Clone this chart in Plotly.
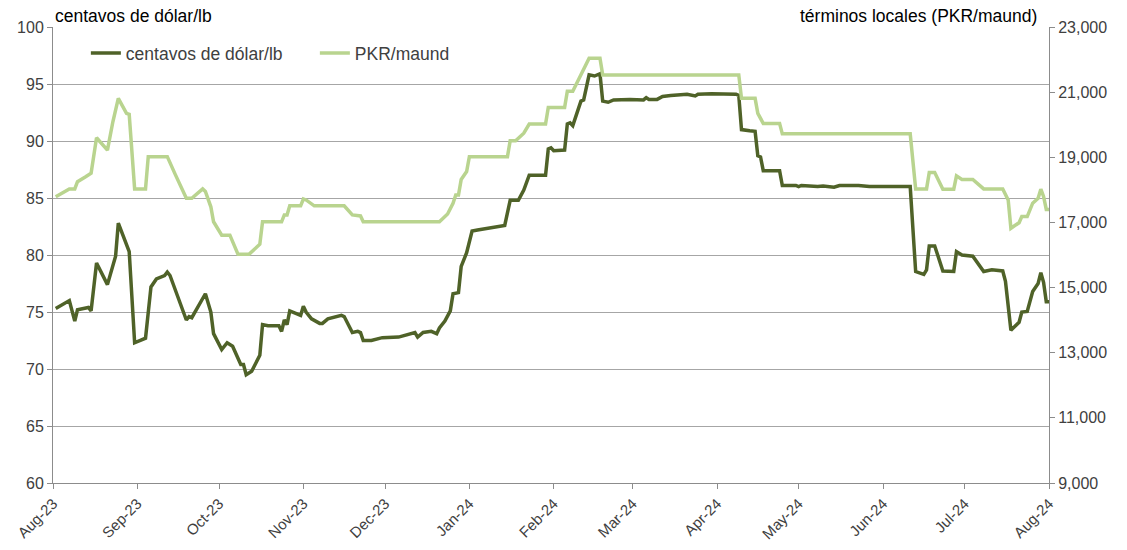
import plotly.graph_objects as go

# centavos de dólar/lb (left axis)
usc_dates = [
    "2023-08-02","2023-08-07","2023-08-09","2023-08-10","2023-08-14","2023-08-15","2023-08-17","2023-08-21",
    "2023-08-24","2023-08-25","2023-08-29","2023-08-31","2023-09-04","2023-09-06","2023-09-08","2023-09-11",
    "2023-09-12","2023-09-13","2023-09-19","2023-09-20","2023-09-21","2023-09-26","2023-09-28","2023-09-29",
    "2023-10-02","2023-10-04","2023-10-06","2023-10-09","2023-10-10","2023-10-11","2023-10-13","2023-10-16",
    "2023-10-17","2023-10-19","2023-10-23","2023-10-24","2023-10-25","2023-10-26","2023-10-27","2023-10-31",
    "2023-11-01","2023-11-02","2023-11-04","2023-11-07","2023-11-08","2023-11-10","2023-11-15","2023-11-16",
    "2023-11-19","2023-11-21","2023-11-22","2023-11-23","2023-11-26","2023-11-28","2023-11-30","2023-12-06",
    "2023-12-09","2023-12-12","2023-12-13","2023-12-15","2023-12-18","2023-12-20","2023-12-21","2023-12-23",
    "2023-12-25","2023-12-26","2023-12-28","2023-12-29","2023-12-31","2024-01-02","2024-01-04","2024-01-09",
    "2024-01-11","2024-01-14","2024-01-16","2024-01-19","2024-01-21","2024-01-23","2024-01-29","2024-01-30",
    "2024-01-31","2024-02-01","2024-02-05","2024-02-06","2024-02-07","2024-02-08","2024-02-11","2024-02-12",
    "2024-02-14","2024-02-16","2024-02-18","2024-02-19","2024-02-21","2024-02-23","2024-02-29","2024-03-05",
    "2024-03-06","2024-03-07","2024-03-10","2024-03-12","2024-03-15","2024-03-18","2024-03-21","2024-03-24",
    "2024-03-25","2024-03-30","2024-04-04","2024-04-08","2024-04-09","2024-04-10","2024-04-13","2024-04-15",
    "2024-04-16","2024-04-17","2024-04-18","2024-04-24","2024-04-25","2024-04-28","2024-04-30","2024-05-01",
    "2024-05-02","2024-05-08","2024-05-10","2024-05-14","2024-05-16","2024-05-23","2024-05-27","2024-06-04",
    "2024-06-11","2024-06-13","2024-06-16","2024-06-17","2024-06-18","2024-06-20","2024-06-23","2024-06-27",
    "2024-06-28","2024-06-30","2024-07-04","2024-07-08","2024-07-11","2024-07-15","2024-07-16","2024-07-18",
    "2024-07-21","2024-07-22","2024-07-24","2024-07-26","2024-07-28","2024-07-29","2024-07-30","2024-07-31",
    "2024-08-01",
]
usc_values = [
    75.3, 76.0, 74.2, 75.2, 75.4, 75.1, 79.3, 77.4,
    79.9, 82.8, 80.3, 72.3, 72.7, 77.2, 77.9, 78.2,
    78.5, 78.2, 74.3, 74.6, 74.5, 76.6, 75.0, 73.1,
    71.7, 72.3, 72.0, 70.4, 70.4, 69.5, 69.8, 71.2,
    73.9, 73.8, 73.8, 73.3, 74.3, 73.9, 75.1, 74.7,
    75.5, 75.0, 74.4, 74.0, 74.0, 74.4, 74.7, 74.6,
    73.2, 73.3, 73.2, 72.5, 72.5, 72.6, 72.75, 72.8,
    73.0, 73.2, 72.8, 73.2, 73.3, 73.1, 73.6, 74.2,
    75.1, 76.6, 76.7, 79.0, 80.2, 82.1, 82.2, 82.4,
    82.45, 82.6, 84.8, 84.8, 85.7, 87.0, 87.0, 89.3,
    89.4, 89.15, 89.2, 91.5, 91.6, 91.35, 93.5, 93.6,
    95.8, 95.7, 95.9, 93.5, 93.4, 93.6, 93.65, 93.6,
    93.8, 93.65, 93.65, 93.9, 94.0, 94.05, 94.1, 93.95,
    94.1, 94.15, 94.1, 94.1, 94.0, 91.0, 90.9, 90.85,
    88.7, 88.6, 87.4, 87.4, 86.1, 86.1, 86.1, 86.0,
    86.1, 86.0, 86.05, 85.95, 86.1, 86.1, 86.0, 86.0,
    86.0, 78.55, 78.3, 78.7, 80.8, 80.8, 78.6, 78.55,
    80.3, 80.0, 79.9, 78.55, 78.7, 78.6, 77.7, 73.4,
    74.1, 75.0, 75.05, 76.8, 77.5, 78.45, 77.6, 75.9,
    75.9,
]

# términos locales PKR/maund (right axis)
pkr_dates = [
    "2023-08-02","2023-08-05","2023-08-07","2023-08-09","2023-08-10","2023-08-13","2023-08-15","2023-08-17",
    "2023-08-21","2023-08-23","2023-08-25","2023-08-28","2023-08-29","2023-08-31","2023-09-04","2023-09-05",
    "2023-09-12","2023-09-15","2023-09-19","2023-09-21","2023-09-25","2023-09-26","2023-09-28","2023-09-29",
    "2023-10-02","2023-10-05","2023-10-08","2023-10-12","2023-10-16","2023-10-17","2023-10-24","2023-10-25",
    "2023-10-26","2023-10-27","2023-10-31","2023-11-01","2023-11-02","2023-11-05","2023-11-16","2023-11-19",
    "2023-11-22","2023-11-23","2023-12-21","2023-12-24","2023-12-26","2023-12-27","2023-12-28","2023-12-29",
    "2023-12-31","2024-01-01","2024-01-15","2024-01-16","2024-01-18","2024-01-21","2024-01-23","2024-01-29",
    "2024-01-30","2024-02-05","2024-02-06","2024-02-08","2024-02-11","2024-02-14","2024-02-18","2024-02-19",
    "2024-04-09","2024-04-10","2024-04-15","2024-04-16","2024-04-18","2024-04-24","2024-04-25","2024-06-11",
    "2024-06-13","2024-06-17","2024-06-18","2024-06-20","2024-06-23","2024-06-27","2024-06-28","2024-06-30",
    "2024-07-04","2024-07-08","2024-07-15","2024-07-17","2024-07-18","2024-07-21","2024-07-22","2024-07-24",
    "2024-07-26","2024-07-28","2024-07-29","2024-07-30","2024-07-31","2024-08-01",
]
pkr_values = [
    17790, 17940, 18030, 18030, 18250, 18400, 18510, 19600,
    19220, 20090, 20810, 20350, 20320, 18030, 18030, 19020,
    19020, 18460, 17740, 17740, 18030, 17950, 17480, 17020,
    16610, 16610, 16020, 16020, 16330, 17020, 17020, 17230,
    17230, 17510, 17510, 17720, 17690, 17510, 17510, 17230,
    17200, 17020, 17020, 17260, 17590, 17840, 17840, 18320,
    18560, 19020, 19020, 19510, 19510, 19740, 20020, 20020,
    20530, 20530, 21030, 21030, 21530, 22040, 22040, 21530,
    21530, 20810, 20810, 20350, 20040, 20040, 19720, 19720,
    18030, 18030, 18530, 18530, 18020, 18020, 18430, 18320,
    18320, 18030, 18030, 17690, 16820, 16990, 17180, 17180,
    17590, 17740, 18020, 17800, 17400, 17400,
]

month_ticks = ["2023-08-01","2023-09-01","2023-10-01","2023-11-01","2023-12-01","2024-01-01","2024-02-01",
               "2024-03-01","2024-04-01","2024-05-01","2024-06-01","2024-07-01","2024-08-01"]
month_labels = ["Aug-23","Sep-23","Oct-23","Nov-23","Dec-23","Jan-24","Feb-24",
                "Mar-24","Apr-24","May-24","Jun-24","Jul-24","Aug-24"]
left_ticks = [60, 65, 70, 75, 80, 85, 90, 95, 100]
right_ticks = [9000, 11000, 13000, 15000, 17000, 19000, 21000, 23000]

DARK = "#4F6228"
LIGHT = "#B9D48F"
FONT = "Liberation Sans, Arial, sans-serif"
TICKC = "#404040"

fig = go.Figure()
fig.add_trace(go.Scatter(x=usc_dates, y=usc_values, mode="lines", name="centavos de dólar/lb",
                         line=dict(color=DARK, width=3.5), yaxis="y"))
fig.add_trace(go.Scatter(x=pkr_dates, y=pkr_values, mode="lines", name="PKR/maund",
                         line=dict(color=LIGHT, width=3.5), yaxis="y2"))

fig.update_layout(
    width=1127, height=550,
    margin=dict(l=53, r=78, t=27, b=67, autoexpand=False),
    paper_bgcolor="white", plot_bgcolor="white",
    font=dict(family=FONT, size=15, color=TICKC),
    showlegend=True,
    legend=dict(orientation="h", x=0.033, y=0.982, xanchor="left", yanchor="top",
                bgcolor="rgba(0,0,0,0)", font=dict(size=17.5, color=TICKC),
                itemwidth=30, entrywidth=184, tracegroupgap=0),
    xaxis=dict(type="date", range=["2023-08-01", "2024-08-01"],
               tickvals=month_ticks, ticktext=month_labels, tickangle=-45,
               showgrid=False, showline=True, linecolor="#8C8C8C", linewidth=1,
               ticks="outside", ticklen=5, tickcolor="#8C8C8C",
               tickfont=dict(size=15, color=TICKC), zeroline=False, automargin=False),
    yaxis=dict(range=[60, 100], tickvals=left_ticks, showgrid=True, gridcolor="#A6A6A6", gridwidth=1,
               showline=True, linecolor="#8C8C8C", linewidth=1, ticks="outside", ticklen=5,
               tickcolor="#8C8C8C", tickfont=dict(size=16, color=TICKC), zeroline=False, automargin=False),
    yaxis2=dict(range=[9000, 23000], tickvals=right_ticks, tickformat=",", overlaying="y", side="right",
                showgrid=False, showline=True, linecolor="#8C8C8C", linewidth=1, ticks="outside",
                ticklen=5, tickcolor="#8C8C8C", tickfont=dict(size=16, color=TICKC), zeroline=False,
                automargin=False),
    annotations=[
        dict(text="centavos de dólar/lb", xref="paper", yref="paper", x=0, y=1, xanchor="left",
             yanchor="bottom", yshift=-1, showarrow=False, font=dict(size=17.5, color="#000000")),
        dict(text="términos locales (PKR/maund)", xref="paper", yref="paper", x=0.99, y=1,
             xanchor="right", yanchor="bottom", yshift=-1, showarrow=False,
             font=dict(size=17.5, color="#000000")),
    ],
)

fig.write_html("out.html", config={"displayModeBar": False},
               post_script="document.body.style.margin='0';")
